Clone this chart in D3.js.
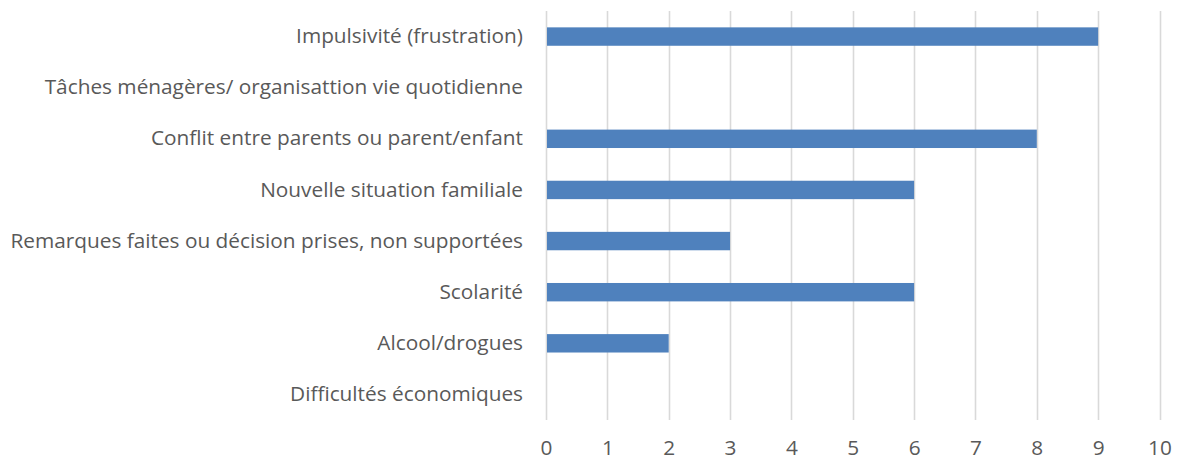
<!DOCTYPE html>
<html>
<head>
<meta charset="utf-8">
<script src="https://cdn.jsdelivr.net/npm/d3@7"></script>
<style>
  body { margin: 0; background: #fff; }
  text { font-family: "Open Sans", Lato, sans-serif; fill: #595959; }
</style>
</head>
<body>
<div id="chart"></div>
<script>
// data, top to bottom as in the picture
const categories = [
    'Impulsivité (frustration)',
    'Tâches ménagères/ organisattion vie quotidienne',
    'Conflit entre parents ou parent/enfant',
    'Nouvelle situation familiale',
    'Remarques faites ou décision prises, non supportées',
    'Scolarité',
    'Alcool/drogues',
    'Difficultés économiques'
]
const values = [9, 0, 8, 6, 3, 6, 2, 0]
const xTicks = [0, 1, 2, 3, 4, 5, 6, 7, 8, 9, 10]

const WIDTH = 1180
const HEIGHT = 462
const margin = { top: 11, right: 20, bottom: 42, left: 546 }
const BAR_COLOR = '#4F81BD'
const GRID_COLOR = '#D9D9D9'
const FONT_SIZE = 20.8

const svg = d3.select('#chart').append('svg')
    .attr('width', WIDTH)
    .attr('height', HEIGHT)

const x = d3.scaleLinear()
    .domain([0, 10])
    .range([margin.left, 1159.5])

const y = d3.scaleBand()
    .domain(categories)
    .range([margin.top, HEIGHT - margin.bottom])
    .padding(0)

const barH = y.bandwidth() * 0.36

// vertical gridlines
svg.append('g')
    .selectAll('line')
    .data(xTicks)
    .join('line')
        .attr('x1', d => Math.round(x(d)) + 0.5)
        .attr('x2', d => Math.round(x(d)) + 0.5)
        .attr('y1', margin.top)
        .attr('y2', HEIGHT - margin.bottom)
        .attr('stroke', GRID_COLOR)
        .attr('stroke-width', 1.6)

// bars
svg.append('g')
    .selectAll('rect')
    .data(values)
    .join('rect')
        .attr('x', x(0) + 1)
        .attr('y', (d, i) => y(categories[i]) + (y.bandwidth() - barH) / 2)
        .attr('width', d => Math.max(0, x(d) - x(0) - 1))
        .attr('height', barH)
        .attr('fill', BAR_COLOR)

// x axis labels (kept a bit high so the text box stays inside the frame)
const xAxis = d3.axisBottom(x)
    .tickValues(xTicks)
    .tickSize(0)
    .tickPadding(0)
svg.append('g')
    .attr('transform', `translate(0, ${HEIGHT - margin.bottom + 20})`)
    .call(xAxis)
    .call(g => g.select('.domain').remove())
    .call(g => g.selectAll('text')
        .attr('font-size', FONT_SIZE)
        .attr('font-family', null)
        .attr('fill', null))

// category labels
const yAxis = d3.axisLeft(y).tickSize(0).tickPadding(23)
svg.append('g')
    .attr('transform', `translate(${margin.left}, 0)`)
    .call(yAxis)
    .call(g => g.select('.domain').remove())
    .call(g => g.selectAll('text')
        .attr('font-size', FONT_SIZE)
        .attr('font-family', null)
        .attr('fill', null))
</script>
</body>
</html>
